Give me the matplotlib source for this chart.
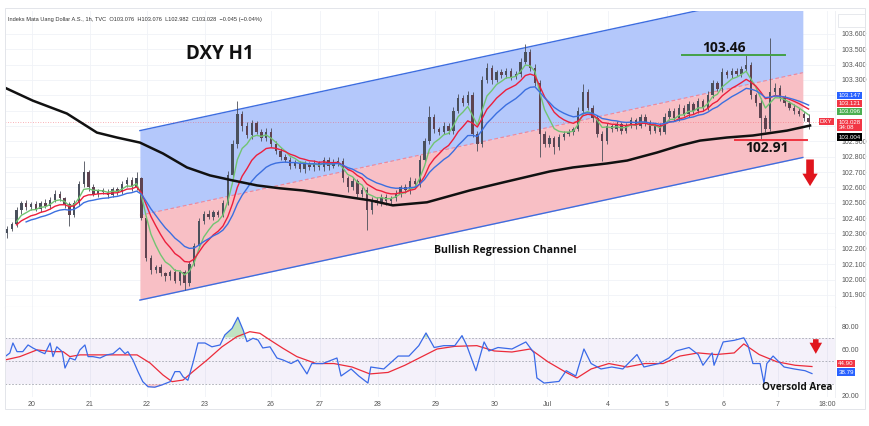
import matplotlib
matplotlib.use("Agg")
import matplotlib.pyplot as plt
import matplotlib.transforms as mtransforms
from matplotlib.patches import Rectangle
import numpy as np
import pandas as pd

# 2-hour bars (bar 0 = first candle on the left)
first_open = 102.30
closes = [
    102.33, 102.36, 102.45, 102.50, 102.47, 102.49, 102.46, 102.50, 102.48, 102.52,
    102.56, 102.53, 102.49, 102.42, 102.50, 102.62, 102.70, 102.60, 102.56, 102.58,
    102.57, 102.55, 102.59, 102.57, 102.62, 102.65, 102.60, 102.66, 102.40, 102.14,
    102.06, 102.08, 102.04, 102.02, 102.05, 101.99, 102.05, 101.98, 102.10, 102.22,
    102.38, 102.43, 102.41, 102.44, 102.42, 102.50, 102.68, 102.88, 103.08, 103.00,
    102.94, 103.02, 102.96, 102.92, 102.96, 102.88, 102.84, 102.80, 102.78, 102.74,
    102.76, 102.72, 102.75, 102.73, 102.76, 102.73, 102.78, 102.74, 102.76, 102.77,
    102.66, 102.60, 102.64, 102.56, 102.58, 102.45, 102.52, 102.50, 102.54, 102.51,
    102.53, 102.56, 102.60, 102.58, 102.64, 102.62, 102.78, 102.90, 103.06, 102.98,
    102.96, 103.00, 102.97, 103.10, 103.18, 103.15, 103.20, 102.95, 102.88, 103.30,
    103.38, 103.30, 103.35, 103.33, 103.36, 103.32, 103.34, 103.42, 103.48, 103.38,
    103.28, 102.95, 102.88, 102.92, 102.86, 102.93, 102.95, 102.96, 102.98, 103.10,
    103.22, 103.12, 103.05, 102.95, 102.90, 103.00, 102.98, 103.01, 102.97, 103.00,
    103.04, 103.00, 103.06, 103.02, 102.97, 103.00, 102.96, 103.06, 103.10, 103.05,
    103.12, 103.08, 103.14, 103.10, 103.16, 103.12, 103.20, 103.28, 103.24, 103.35,
    103.33, 103.36, 103.34, 103.37, 103.40, 103.20, 103.15, 103.05, 102.98, 103.22,
    103.25, 103.18, 103.15, 103.12, 103.10, 103.08, 103.05, 103.028,
]
# wick lengths beyond the body, in thousandths
up_wick = [
    20, 15, 25, 10, 20, 15, 20, 10, 25, 15,
    20, 15, 10, 15, 20, 20, 75, 15, 20, 10,
    15, 20, 10, 15, 20, 15, 20, 40, 10, 15,
    20, 15, 20, 10, 15, 20, 10, 15, 20, 15,
    20, 15, 20, 10, 15, 20, 25, 30, 85, 20,
    25, 20, 15, 20, 25, 30, 20, 15, 20, 15,
    20, 15, 25, 15, 20, 15, 20, 15, 25, 30,
    20, 15, 25, 15, 20, 20, 15, 20, 15, 20,
    15, 20, 15, 20, 25, 20, 30, 25, 70, 20,
    15, 25, 20, 25, 30, 20, 30, 20, 20, 25,
    30, 20, 15, 20, 15, 20, 15, 25, 55, 20,
    25, 20, 15, 20, 15, 20, 15, 20, 15, 25,
    55, 20, 15, 20, 15, 20, 15, 20, 15, 20,
    20, 15, 20, 15, 20, 15, 20, 25, 15, 20,
    20, 15, 20, 15, 20, 15, 25, 20, 15, 25,
    15, 20, 15, 20, 60, 20, 15, 30, 20, 355,
    30, 20, 25, 15, 20, 20, 15, 26,
]
down_wick = [
    30, 15, 20, 25, 15, 20, 15, 20, 15, 20,
    15, 20, 25, 70, 15, 20, 20, 25, 15, 20,
    15, 20, 15, 20, 15, 20, 25, 15, 15, 20,
    25, 20, 15, 30, 20, 15, 25, 50, 20, 15,
    15, 20, 15, 20, 15, 10, 15, 20, 25, 30,
    20, 25, 15, 20, 15, 20, 25, 20, 15, 20,
    15, 20, 25, 15, 20, 15, 20, 25, 15, 20,
    25, 30, 20, 25, 20, 130, 20, 15, 20, 25,
    15, 20, 25, 15, 20, 15, 20, 15, 20, 25,
    20, 15, 20, 25, 15, 20, 15, 20, 40, 15,
    20, 25, 15, 20, 15, 20, 15, 20, 15, 25,
    20, 150, 20, 15, 40, 15, 20, 15, 20, 15,
    20, 15, 25, 20, 130, 15, 20, 15, 20, 15,
    15, 20, 15, 20, 25, 15, 20, 15, 20, 15,
    20, 15, 20, 25, 15, 20, 15, 20, 15, 20,
    15, 20, 15, 20, 15, 25, 20, 140, 20, 15,
    20, 15, 20, 15, 20, 15, 20, 46,
]

# long (black) moving average, read as points (bar, price)
ma_long_bar = [-0.4, 5.4, 12.5, 18.75, 22.9, 27.7, 32.5, 37.5, 42.3, 47.1, 52.1, 56.9,
               61.7, 68.75, 75.6, 80.4, 87.5, 96.5, 103.3, 113.1, 117.9, 125.0, 129.2,
               135.4, 140.2, 144.4, 150.0, 155.4, 162.5, 167.3]
ma_long_val = [103.249, 103.165, 103.081, 102.957, 102.925, 102.892, 102.821, 102.730,
               102.678, 102.645, 102.613, 102.594, 102.580, 102.548, 102.516, 102.483,
               102.503, 102.581, 102.632, 102.704, 102.730, 102.756, 102.775, 102.827,
               102.873, 102.905, 102.925, 102.938, 102.970, 103.003]
ema_spans = {"#72c472": 5, "#ec1f3d": 10, "#3b6fe0": 17}
ema_start = {"#72c472": 2, "#ec1f3d": 2, "#3b6fe0": 4}

# regression channel
channel_bar = [27.7, 165.8]
channel_mid = [102.418, 103.347]
channel_half = 0.552

# RSI (blue) and its moving average (red), points (bar, value)
rsi_bar = [-0.4, 0.6, 1.25, 2.1, 3.3, 4.4, 5.4, 6.9, 7.9, 9.0, 9.6, 10.4, 11.5, 12.1, 13.1,
           14.2, 15.2, 16.25, 16.9, 17.9, 19.4, 20.8, 22.1, 23.5, 24.6, 25.2, 26.25, 27.3,
           28.3, 29.4, 30.8, 32.3, 34.0, 35.0, 36.0, 36.7, 37.7, 38.75, 39.8, 41.25, 42.7,
           44.4, 45.4, 46.9, 48.1, 49.2, 50.0, 51.25, 52.3, 53.3, 54.8, 56.25, 57.5, 59.2,
           60.6, 62.5, 63.5, 65.8, 68.75, 69.6, 71.7, 73.3, 75.2, 75.8, 78.5, 81.5, 83.75,
           85.8, 87.3, 89.0, 91.0, 93.3, 94.8, 95.8, 97.7, 99.4, 100.4, 102.3, 105.2, 108.1,
           109.8, 110.4, 111.9, 115.0, 116.5, 118.5, 120.2, 121.7, 123.75, 126.0, 128.3,
           131.25, 132.7, 135.8, 137.9, 139.4, 142.1, 144.0, 145.0, 146.9, 147.3, 149.2,
           151.5, 153.5, 154.4, 155.4, 156.9, 157.7, 158.3, 159.6, 161.9, 164.0, 166.25, 167.7]
rsi_val = [53.5, 56.6, 65.3, 57.8, 57.8, 63.6, 61.0, 57.8, 56.0, 65.3, 53.5, 62.0, 57.8, 43.6,
           52.3, 50.6, 59.3, 63.6, 53.5, 53.5, 52.3, 55.0, 56.0, 61.0, 56.0, 57.8, 50.6, 40.5,
           31.8, 27.4, 27.0, 29.0, 31.8, 40.5, 40.5, 36.0, 33.0, 48.0, 65.3, 65.3, 62.0, 63.6,
           72.3, 78.0, 87.6, 76.6, 66.5, 69.4, 67.9, 61.0, 62.0, 52.3, 50.6, 47.5, 50.6, 38.5,
           47.5, 47.5, 52.3, 36.7, 42.8, 36.7, 30.6, 44.5, 42.8, 54.0, 54.0, 63.0, 74.0, 61.4,
           63.0, 63.0, 71.7, 63.0, 41.3, 66.2, 58.4, 61.4, 60.1, 66.2, 56.7, 35.0, 30.6, 32.0,
           41.3, 36.7, 60.1, 47.5, 42.8, 44.5, 42.8, 55.3, 44.5, 47.5, 52.3, 58.4, 61.4, 55.3,
           46.0, 56.7, 46.0, 66.2, 67.6, 69.8, 63.0, 47.5, 47.5, 30.6, 47.5, 54.0, 44.5, 42.8,
           41.3, 38.8]
rsi_ma_bar = [-0.4, 2.7, 6.25, 9.6, 11.7, 13.1, 15.2, 19.4, 23.5, 27.1, 29.8, 32.5, 34.4,
              36.7, 38.75, 41.7, 44.8, 47.9, 50.6, 52.7, 54.8, 57.5, 60.4, 64.4, 68.1, 71.9,
              75.6, 79.4, 82.9, 86.7, 89.6, 93.3, 97.9, 101.5, 105.2, 109.0, 112.7, 116.5,
              118.75, 121.7, 125.4, 129.2, 132.9, 136.7, 140.2, 144.0, 147.7, 151.5, 153.5,
              156.7, 160.4, 164.2, 167.7]
rsi_ma_val = [50.6, 53.5, 59.3, 57.8, 57.8, 53.5, 55.0, 55.0, 55.0, 55.0, 48.0, 37.6, 31.8,
              33.2, 40.5, 50.6, 62.0, 70.8, 75.1, 73.7, 67.9, 60.7, 53.5, 47.5, 47.5, 44.5,
              38.5, 39.8, 46.0, 54.0, 60.1, 62.4, 63.0, 58.4, 57.5, 60.1, 49.0, 39.8, 35.0,
              42.8, 47.5, 44.5, 47.5, 47.5, 54.0, 56.7, 55.3, 56.7, 64.5, 55.3, 49.0, 46.0,
              44.9]

day_tick_bar = [5.2, 17.3, 29.2, 41.25, 55.0, 65.2, 77.3, 89.2, 101.5, 112.5, 125.2,
                137.5, 149.2, 160.6, 170.8]
day_labels = ["20", "21", "22", "23", "26", "27", "28", "29", "30", "Jul", "4", "5", "6",
              "7", "18:00"]
price_ticks = [101.9, 102.0, 102.1, 102.2, 102.3, 102.4, 102.5, 102.6, 102.7, 102.8,
               102.9, 103.0, 103.1, 103.2, 103.3, 103.4, 103.5, 103.6]
rsi_ticks = [20, 40, 60, 80]
# scale labels hidden behind the last-value tags, as on the original
hidden_price = [103.0, 103.1, 103.2]
hidden_rsi = [40]

last_labels = [("#2962ff", 103.147), ("#f23645", 103.121), ("#4caf50", 103.096)]
last_close_label = (103.028, "34:08")
last_ma_label = 103.004
rsi_last = [("#f23645", 44.90), ("#2962ff", 38.79)]
swing_high = 103.46
swing_low = 102.91

header = ("Indeks Mata Uang Dollar A.S., 1h, TVC  O103.076  H103.076  "
          "L102.982  C103.028  \u22120.045 (\u22120.04%)")

plt.rcParams["font.family"] = ["Liberation Sans", "DejaVu Sans"]
W, H = 870, 426
fig = plt.figure(figsize=(W / 100, H / 100), dpi=100)
fig.patch.set_facecolor("white")


def fbox(x0, y0, x1, y1):
    return [x0 / W, 1 - y1 / H, (x1 - x0) / W, (y1 - y0) / H]


ax = fig.add_axes(fbox(5, 11, 835, 307))
axr = fig.add_axes(fbox(5, 307, 835, 397), sharex=ax)

n = len(closes)
bars = np.arange(n)
c = np.array(closes)
o = np.array([first_open] + closes[:-1])
hi = np.maximum(o, c) + np.array(up_wick) / 1000
lo = np.minimum(o, c) - np.array(down_wick) / 1000

ax.set_xlim(-0.4, 172.5)
ax.set_ylim(101.821, 103.749)

# channel
cx = np.array(channel_bar)
cm = np.array(channel_mid)
ax.fill_between(cx, cm, cm + channel_half, color="#b4c8fb", lw=0, zorder=1)
ax.fill_between(cx, cm - channel_half, cm, color="#f8bfc5", lw=0, zorder=1)
ax.plot(cx, cm + channel_half, color="#3d6de0", lw=1.0, zorder=2)
ax.plot(cx, cm - channel_half, color="#3d6de0", lw=1.0, zorder=2)
ax.plot(cx, cm, color="#f1899a", lw=0.9, ls=(0, (3, 2)), zorder=2)

# grid
for b in day_tick_bar:
    ax.axvline(b, color="#f0f2f7", lw=0.6, zorder=0)
    axr.axvline(b, color="#f0f2f7", lw=0.6, zorder=0)
for p in price_ticks:
    ax.axhline(p, color="#f0f2f7", lw=0.6, zorder=0)

# candles
up = c >= o
ax.vlines(bars, lo, hi, color="#4a4e58", lw=0.6, zorder=3)
body_col = np.where(up, "#4a505c", "#5e4350")
ax.bar(bars, np.maximum(np.abs(c - o), 0.004), bottom=np.minimum(o, c), width=0.5,
       color=body_col, lw=0, zorder=3)

# moving averages
cs = pd.Series(closes)
for col, span in ema_spans.items():
    e = cs.ewm(span=span, adjust=False).mean()
    s = ema_start[col]
    ax.plot(bars[s:], e.values[s:], color=col, lw=1.0, zorder=4)
ax.plot(ma_long_bar, ma_long_val, color="#111111", lw=1.8, zorder=5,
        solid_joinstyle="round")

# current price line
ax.axhline(closes[-1], color="#f7525f", lw=0.6, ls=(0, (1, 2)), alpha=0.6, zorder=2)

# swing levels
ax.plot([140.6, 162.0], [swing_high, swing_high], color="#43a047", lw=1.4, zorder=6)
ax.plot([151.7, 166.7], [swing_low, swing_low], color="#ef3340", lw=1.4, zorder=6)
ax.text(149.4, swing_high + 0.05, f"{swing_high:.2f}", ha="center", va="center",
        fontsize=10, fontweight="bold", family="Open Sans", color="#111", zorder=7)
ax.text(158.3, swing_low - 0.055, f"{swing_low:.2f}", ha="center", va="center",
        fontsize=10, fontweight="bold", family="Open Sans", color="#111", zorder=7)

ax.text(44.4, 103.47, "DXY H1", ha="center", va="center", fontsize=13.5,
        fontweight="bold", family="Open Sans", color="#111")
ax.text(103.75, 102.19, "Bullish Regression Channel", ha="center", va="center",
        fontsize=7.6, fontweight="bold", family="Open Sans", color="#111")

ax.annotate("", xy=(167.3, 102.59), xytext=(167.3, 102.80),
            arrowprops=dict(arrowstyle="simple,head_width=1.1,head_length=0.9,tail_width=0.55",
                            color="#e0151d", lw=0), zorder=7)

# right price scale
ax.yaxis.tick_right()
ax.set_yticks(price_ticks)
ax.set_yticklabels(["" if p in hidden_price else f"{p:.3f}" for p in price_ticks])
ax.tick_params(axis="y", length=0, pad=5, labelsize=5, labelcolor="#555")
ax.tick_params(axis="x", length=0, labelbottom=False)
for s in ax.spines.values():
    s.set_visible(False)
ax.spines["bottom"].set_visible(True)
ax.spines["bottom"].set_color("#d6d9e0")
ax.spines["bottom"].set_linewidth(0.8)

tr = mtransforms.blended_transform_factory(ax.transAxes, ax.transData)


def tag(axis, trans, y, txt, col, fc="white", x=1.004, size=4.4):
    axis.text(x, y, txt, transform=trans, ha="left", va="center", fontsize=size,
              color=fc, zorder=10, clip_on=False, linespacing=1.05,
              bbox=dict(boxstyle="square,pad=0.2", fc=col, ec="none"))


# tags stacked on the price scale so they do not cover each other
label_pos = [103.197, 103.146, 103.095]
for (col, v), yp in zip(last_labels, label_pos):
    tag(ax, tr, yp, f"{v:.3f}", col)
tag(ax, tr, 103.006, f"{last_close_label[0]:.3f}\n{last_close_label[1]}", "#f23645")
tag(ax, tr, 102.928, f"{last_ma_label:.3f}", "#000000")
ax.text(0.997, 103.028, "DXY", transform=tr, ha="right", va="center", fontsize=4.4,
        color="white", zorder=10, bbox=dict(boxstyle="square,pad=0.2", fc="#f23645", ec="none"))

# RSI pane
axr.set_ylim(18.5, 96.5)
axr.axhspan(30, 70, color="#7e57c2", alpha=0.08, lw=0, zorder=0)
for lvl in (30, 50, 70):
    axr.axhline(lvl, color="#a3a6b0", lw=0.6, ls=(0, (2, 2)), zorder=1)
rb = np.array(rsi_bar)
rv = np.array(rsi_val)
axr.fill_between(rb, 70, rv, where=rv > 70, interpolate=True, color="#4caf50",
                 alpha=0.35, lw=0, zorder=2)
axr.fill_between(rb, 30, rv, where=rv < 30, interpolate=True, color="#f23645",
                 alpha=0.25, lw=0, zorder=2)
axr.plot(rsi_ma_bar, rsi_ma_val, color="#ec2b3a", lw=0.9, zorder=3)
axr.plot(rb, rv, color="#3a6ae8", lw=0.9, zorder=4)

axr.annotate("", xy=(168.5, 53.5), xytext=(168.5, 71.0),
             arrowprops=dict(arrowstyle="simple,head_width=0.9,head_length=0.8,tail_width=0.4",
                             color="#e0151d", lw=0), zorder=7)
axr.text(164.6, 27.0, "Oversold Area", ha="center", va="center", fontsize=7.2,
         fontweight="bold", family="Open Sans", color="#111", zorder=7)

axr.yaxis.tick_right()
axr.set_yticks(rsi_ticks)
axr.set_yticklabels(["" if v in hidden_rsi else f"{v:.2f}" for v in rsi_ticks])
axr.tick_params(axis="y", length=0, pad=5, labelsize=5, labelcolor="#555")
axr.set_xticks(day_tick_bar)
axr.set_xticklabels(day_labels)
axr.tick_params(axis="x", length=0, pad=3, labelsize=5, labelcolor="#555")
for s in axr.spines.values():
    s.set_visible(False)
trr = mtransforms.blended_transform_factory(axr.transAxes, axr.transData)
tag(axr, trr, 47.3, f"{rsi_last[0][1]:.2f}", rsi_last[0][0])
tag(axr, trr, 40.0, f"{rsi_last[1][1]:.2f}", rsi_last[1][0])

# header and frame
fig.text(8 / W, 1 - 19 / H, header, fontsize=4.1, color="#333", va="center", ha="left")
fig.patches.append(Rectangle((5 / W, 1 - 409 / H), 860 / W, 401 / H, transform=fig.transFigure,
                             fill=False, ec="#e3e5ea", lw=0.7))
fig.patches.append(Rectangle((838 / W, 1 - 27 / H), 27 / W, 13 / H, transform=fig.transFigure,
                             fill=False, ec="#e3e5ea", lw=0.6))
fig.add_artist(plt.Line2D([835 / W, 835 / W], [1 - 397 / H, 1 - 11 / H], color="#eceef2", lw=0.6))

fig.savefig("out.png", dpi=100)
